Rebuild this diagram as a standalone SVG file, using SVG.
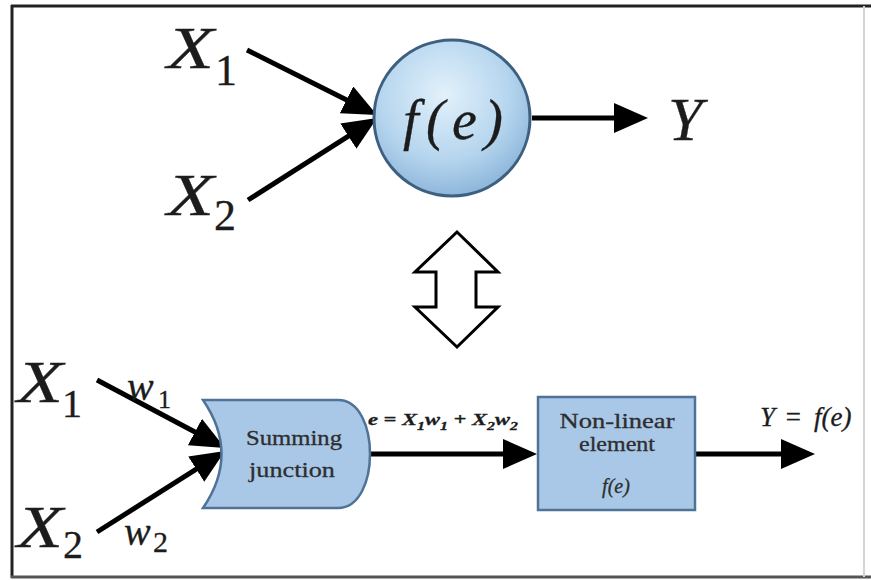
<svg xmlns="http://www.w3.org/2000/svg" width="871" height="580" viewBox="0 0 871 580">
<style>
.var{font-family:"Liberation Serif","Times New Roman",serif;font-style:italic;fill:#1c1c1c;stroke:#1c1c1c;stroke-width:0.3}
.num{font-family:"Liberation Serif","Times New Roman",serif;fill:#1c1c1c;stroke:#1c1c1c;stroke-width:0.3}
.box{font-family:"Liberation Serif","Times New Roman",serif;fill:#2e2e2e;stroke:#2e2e2e;stroke-width:0.3;text-anchor:middle}
.conn{stroke:#000;stroke-width:5;fill:none;marker-end:url(#ah)}
.blue{fill:#a9c8e7;stroke:#4f7296;stroke-width:2.5}
</style>
<defs>
<marker id="ah" markerUnits="userSpaceOnUse" markerWidth="36" markerHeight="32" refX="8" refY="15" orient="auto">
<path d="M0,0 L34,15 L0,30 Z" fill="#000"/>
</marker>
<radialGradient id="ball" cx="0.45" cy="0.35" r="0.7">
<stop offset="0" stop-color="#e2f1fb"/>
<stop offset="0.6" stop-color="#b5d5ee"/>
<stop offset="1" stop-color="#86b0d6"/>
</radialGradient>
</defs>
<rect width="871" height="580" fill="#fff"/>
<g id="frame">
<line x1="11" y1="6" x2="871" y2="6" stroke="#222" stroke-width="3"/>
<line x1="12" y1="5" x2="12" y2="578" stroke="#222" stroke-width="3"/>
<line x1="11" y1="577" x2="871" y2="577" stroke="#555" stroke-width="3"/>
<line x1="864" y1="6" x2="864" y2="577" stroke="#d4d4d4" stroke-width="2"/>
</g>
<g id="connectors">
<line class="conn" x1="247" y1="50" x2="353.7" y2="103.4"/>
<line class="conn" x1="248" y1="200" x2="355.1" y2="131.9"/>
<line class="conn" x1="532" y1="118" x2="622" y2="118"/>
<line class="conn" x1="97" y1="380" x2="202" y2="435.8"/>
<line class="conn" x1="97" y1="532" x2="203" y2="464.9"/>
<line class="conn" x1="370" y1="454" x2="511" y2="454"/>
<line class="conn" x1="695" y1="454" x2="789" y2="454"/>
</g>
<g id="top-x1"><text class="var" x="167" y="68" font-size="60" textLength="47" lengthAdjust="spacingAndGlyphs">X</text><text class="num" x="215" y="85" font-size="44">1</text></g>
<g id="top-x2"><text class="var" x="167" y="215" font-size="60" textLength="47" lengthAdjust="spacingAndGlyphs">X</text><text class="num" x="214" y="230" font-size="44">2</text></g>
<g id="neuron">
<circle cx="452" cy="118" r="78" fill="url(#ball)" stroke="#3d5f80" stroke-width="3"/>
<text class="var" x="453" y="139" font-size="56" text-anchor="middle" textLength="100" lengthAdjust="spacing">f(e)</text>
</g>
<g id="top-y"><text class="var" x="668" y="140" font-size="62">Y</text></g>
<g id="equiv">
<polygon points="457,232 498,272 476,272 476,307 498,307 457,347 415,307 436,307 436,272 415,272" fill="#fff" stroke="#000" stroke-width="3" stroke-linejoin="miter"/>
</g>
<g id="bot-x1"><text class="var" x="17" y="402" font-size="60" textLength="46" lengthAdjust="spacingAndGlyphs">X</text><text class="num" x="62" y="417" font-size="40">1</text></g>
<g id="bot-x2"><text class="var" x="17" y="547" font-size="60" textLength="46" lengthAdjust="spacingAndGlyphs">X</text><text class="num" x="63" y="558" font-size="40">2</text></g>
<g id="w1"><text class="var" x="127" y="400" font-size="40">w</text><text class="num" x="158" y="408" font-size="26">1</text></g>
<g id="w2"><text class="var" x="124" y="545" font-size="40">w</text><text class="num" x="153" y="552" font-size="30">2</text></g>
<g id="summing">
<path class="blue" d="M203,400 L338,400 C360,400 370,428 370,454 C370,480 360,508 338,508 L203,508 Q240,454 203,400 Z"/>
<text class="box" x="294" y="445" font-size="22" textLength="96" lengthAdjust="spacingAndGlyphs">Summing</text>
<text class="box" x="292" y="477" font-size="22" textLength="86" lengthAdjust="spacingAndGlyphs">junction</text>
</g>
<g id="sum-label">
<text class="var" x="368" y="425" font-size="17" font-weight="bold" stroke-width="0" textLength="150" lengthAdjust="spacingAndGlyphs">e = X<tspan font-size="12" dy="5">1</tspan><tspan dy="-5">w</tspan><tspan font-size="12" dy="5">1</tspan><tspan dy="-5"> + X</tspan><tspan font-size="12" dy="5">2</tspan><tspan dy="-5">w</tspan><tspan font-size="12" dy="5">2</tspan></text>
</g>
<g id="nonlinear">
<rect class="blue" x="538" y="397" width="157" height="113"/>
<text class="box" x="617" y="428" font-size="20" textLength="115" lengthAdjust="spacingAndGlyphs">Non-linear</text>
<text class="box" x="617" y="451" font-size="20" textLength="76" lengthAdjust="spacingAndGlyphs">element</text>
<text class="box" x="616" y="493" font-size="20" font-style="italic">f(e)</text>
</g>
<g id="out-label"><text class="var" x="760" y="426" font-size="27" stroke-width="0.2">Y<tspan x="784">=</tspan><tspan x="814">f(e)</tspan></text></g>
</svg>
